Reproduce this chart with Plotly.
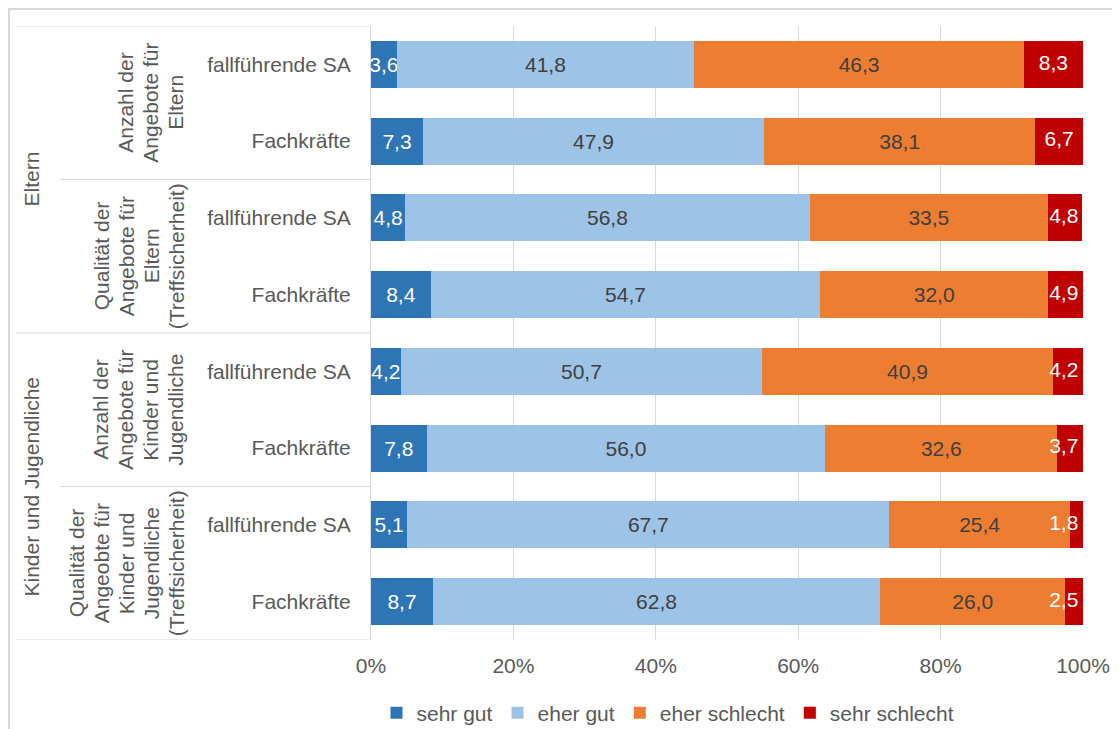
import plotly.graph_objects as go

# ---- data ----
row_labels = ["fallführende SA", "Fachkräfte", "fallführende SA", "Fachkräfte",
              "fallführende SA", "Fachkräfte", "fallführende SA", "Fachkräfte"]
subgroups = [["Anzahl der", "Angebote für", "Eltern"],
             ["Qualität der", "Angebote für", "Eltern", "(Treffsicherheit)"],
             ["Anzahl der", "Angebote für", "Kinder und", "Jugendliche"],
             ["Qualität der", "Angeobte für", "Kinder und", "Jugendliche", "(Treffsicherheit)"]]
groups = ["Eltern", "Kinder und Jugendliche"]

sehr_gut = [3.6, 7.3, 4.8, 8.4, 4.2, 7.8, 5.1, 8.7]
eher_gut = [41.8, 47.9, 56.8, 54.7, 50.7, 56.0, 67.7, 62.8]
eher_schlecht = [46.3, 38.1, 33.5, 32.0, 40.9, 32.6, 25.4, 26.0]
sehr_schlecht = [8.3, 6.7, 4.8, 4.9, 4.2, 3.7, 1.8, 2.5]

series_names = ["sehr gut", "eher gut", "eher schlecht", "sehr schlecht"]
series_values = [sehr_gut, eher_gut, eher_schlecht, sehr_schlecht]
colors = ["#2E75B6", "#9DC3E6", "#ED7D31", "#C00000"]
text_colors = ["#FFFFFF", "#404040", "#404040", "#FFFFFF"]

x_ticks = [0, 20, 40, 60, 80, 100]
x_tick_labels = ["0%", "20%", "40%", "60%", "80%", "100%"]

FONT = "Liberation Sans, Arial, sans-serif"
FS = 21
GRID = "#D9D9D9"
LABEL = "#595959"

n = len(row_labels)
y_idx = list(range(n))

# the page places the figure at (8, 8) (default body margin)
OFF = 8
W, H = 1120 - OFF, 729 - OFF
PLOT_L, PLOT_R, PLOT_T, PLOT_B = 371, 1083, 26, 640   # page pixels
L = PLOT_L - OFF
R = W - (PLOT_R - OFF)
T = PLOT_T - OFF
B = H - (PLOT_B - OFF)
pw = W - L - R
ph = H - T - B


def px_to_paper_x(p):
    return (p - PLOT_L) / pw


def px_to_paper_y(p):
    return (PLOT_B - p) / ph


fig = go.Figure()
for k, (name, vals, col, tcol) in enumerate(zip(series_names, series_values, colors, text_colors)):
    last = k == len(series_names) - 1
    fig.add_trace(go.Bar(
        y=y_idx, x=vals, name=name, orientation="h",
        marker=dict(color=col, line=dict(width=0)),
        width=0.61,
        texttemplate="%{x:.1f}",
        textposition="none" if last else "inside",
        insidetextanchor="middle", textangle=0,
        textfont=dict(color=tcol, size=FS, family=FONT),
        hoverinfo="x+name",
    ))

# labels of the last (narrow) series: kept inside the chart like the original
max_center = 100 - 2.7
last_vals = series_values[-1]
last_centers = [min(100 - v / 2, max_center) for v in last_vals]
fig.add_trace(go.Scatter(
    x=last_centers, y=y_idx, mode="text",
    text=[f"{v:.1f}".replace(".", ",") for v in last_vals],
    textposition="middle center",
    textfont=dict(color=text_colors[-1], size=FS, family=FONT),
    showlegend=False, hoverinfo="skip", cliponaxis=False,
))

shapes = []
# outer frame (top + left) at the figure edge
shapes.append(dict(type="line", xref="paper", yref="paper",
                   x0=px_to_paper_x(OFF + 0.5), x1=px_to_paper_x(1125),
                   y0=px_to_paper_y(OFF + 1), y1=px_to_paper_y(OFF + 1),
                   line=dict(color="#D9D9D9", width=2)))
shapes.append(dict(type="line", xref="paper", yref="paper",
                   x0=px_to_paper_x(OFF + 1), x1=px_to_paper_x(OFF + 1),
                   y0=px_to_paper_y(OFF), y1=px_to_paper_y(740),
                   line=dict(color="#D9D9D9", width=2)))
# category separators
for b in range(0, n + 1, 2):
    yb = b - 0.5
    x0 = 16 if b % 4 == 0 else 60
    shapes.append(dict(type="line", xref="paper", yref="y",
                       x0=px_to_paper_x(x0), x1=0, y0=yb, y1=yb,
                       line=dict(color=GRID, width=1)))

annotations = []
line_step = 25
for i, lines in enumerate(subgroups):
    m = len(lines)
    for j, txt in enumerate(lines):
        xc = 176 - (m - 1 - j) * line_step
        annotations.append(dict(xref="paper", yref="y", x=px_to_paper_x(xc), y=2 * i + 0.5,
                                text=txt, showarrow=False, textangle=-90,
                                xanchor="center", yanchor="middle",
                                font=dict(size=FS, color=LABEL, family=FONT)))
for i, g in enumerate(groups):
    annotations.append(dict(xref="paper", yref="y", x=px_to_paper_x(31), y=4 * i + 1.5,
                            text=g, showarrow=False, textangle=-90,
                            xanchor="center", yanchor="middle",
                            font=dict(size=FS, color=LABEL, family=FONT)))

fig.update_layout(
    barmode="stack",
    width=W, height=H,
    margin=dict(l=L, r=R, t=T, b=B, autoexpand=False),
    paper_bgcolor="white", plot_bgcolor="white",
    separators=",.",
    font=dict(family=FONT, size=FS, color=LABEL),
    uniformtext=dict(minsize=FS, mode="show"),
    showlegend=True,
    legend=dict(orientation="h", x=px_to_paper_x(668), xanchor="center",
                y=px_to_paper_y(713), yanchor="middle",
                font=dict(size=FS, color=LABEL, family=FONT),
                traceorder="normal", itemwidth=30),
    shapes=shapes,
    annotations=annotations,
)
fig.update_xaxes(range=[0, 100], tickvals=x_ticks, ticktext=x_tick_labels,
                 showgrid=True, gridcolor=GRID, gridwidth=1,
                 zeroline=False, showline=False, automargin=False,
                 ticks="outside", ticklen=7, tickcolor="rgba(0,0,0,0)",
                 tickfont=dict(size=FS, color=LABEL, family=FONT),
                 fixedrange=True)
fig.update_yaxes(range=[n - 0.5, -0.5], tickvals=y_idx, ticktext=row_labels,
                 showgrid=False, zeroline=False, automargin=False,
                 showline=True, linecolor=GRID, linewidth=1,
                 ticks="outside", ticklen=15, tickcolor="rgba(0,0,0,0)",
                 tickfont=dict(size=FS, color=LABEL, family=FONT),
                 fixedrange=True)

fig.write_html("out.html")
